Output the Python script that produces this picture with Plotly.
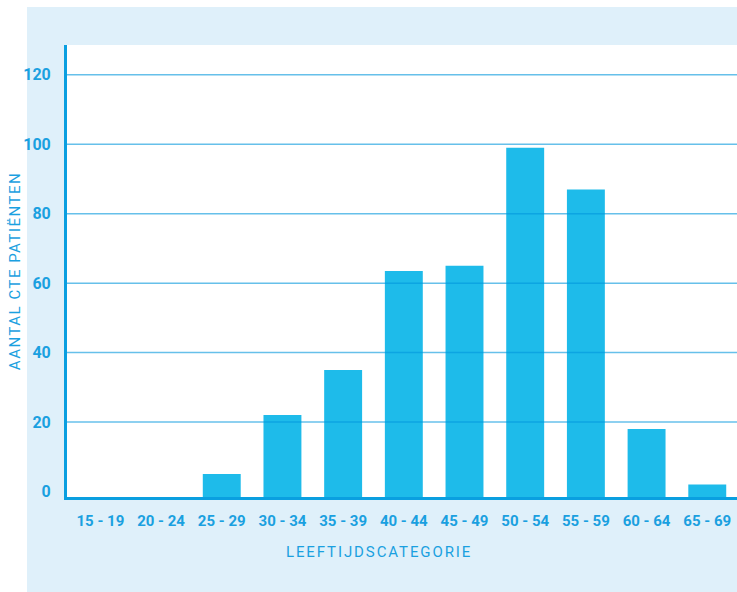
import plotly.graph_objects as go

# Age categories and number of CTE patients per category
categories = ["15 - 19", "20 - 24", "25 - 29", "30 - 34", "35 - 39", "40 - 44",
              "45 - 49", "50 - 54", "55 - 59", "60 - 64", "65 - 69"]
patients = [0, 0, 5, 22, 35, 63.5, 65, 99, 87, 18, 2]
y_ticks = [0, 20, 40, 60, 80, 100, 120]

BAR = "#1ebbea"
AXIS = "#0a9fe0"
TEXT = "#1aa0e0"
PANEL = "#dff0fa"

# the value axis starts a little below zero; bars stand on the axis line
y_min, y_max = -1.6, 128.6
bar_len = [v - y_min if v > 0 else 0 for v in patients]

fig = go.Figure(
    go.Bar(
        x=categories,
        y=bar_len,
        base=y_min,
        marker=dict(color=BAR, line=dict(width=0)),
        width=0.625,
        hoverinfo="skip",
    )
)

# gridlines drawn over the bars, semi-transparent
shapes = [
    dict(type="line", xref="x domain", yref="y", x0=0, x1=1, y0=t, y1=t,
         line=dict(color="rgba(0,150,220,0.6)", width=1.5), layer="above")
    for t in y_ticks if t > 0
]
# white strips around the light-blue panel
shapes += [
    dict(type="rect", xref="paper", yref="paper", x0=-0.2, x1=-0.0597, y0=-0.5, y1=1.5,
         fillcolor="white", line=dict(width=0), layer="below"),
    dict(type="rect", xref="paper", yref="paper", x0=-0.2, x1=1.2, y0=1.084, y1=1.5,
         fillcolor="white", line=dict(width=0), layer="below"),
]

fig.update_layout(
    width=737, height=592,
    margin=dict(l=67, r=0, t=45, b=95, autoexpand=False),
    paper_bgcolor=PANEL,
    plot_bgcolor="white",
    showlegend=False,
    bargap=0.375,
    shapes=shapes,
    font=dict(family="Roboto", color=TEXT),
    annotations=[
        dict(text="LEEFTIJDSCATEGORIE", xref="paper", yref="paper",
             x=0.4657, y=-0.122, xanchor="center", yanchor="middle",
             showarrow=False, font=dict(family="Roboto", size=15, color=TEXT)),
    ],
)

fig.update_xaxes(
    range=[-0.55, 10.49],
    showgrid=False,
    showline=True, linecolor=AXIS, linewidth=3,
    ticks="", ticklabelstandoff=8,
    tickfont=dict(family="Roboto", size=15, color=TEXT, weight=700),
    automargin=False,
    fixedrange=True,
)

fig.update_yaxes(
    range=[y_min, y_max],
    tickvals=y_ticks,
    showgrid=False, zeroline=False,
    showline=True, linecolor=AXIS, linewidth=3,
    ticks="", ticklabelstandoff=10,
    tickfont=dict(family="Roboto", size=16, color=TEXT, weight=700),
    title=dict(text="AANTAL CTE PATIËNTEN", standoff=0,
               font=dict(family="Roboto", size=15, color=TEXT)),
    automargin=False,
    fixedrange=True,
)

# spaced-out lettering for the axis titles
letter_spacing = """
document.querySelectorAll('.annotation-text').forEach(function(e){ e.style.letterSpacing = '1.9px'; });
document.querySelectorAll('.ytitle').forEach(function(e){ e.style.letterSpacing = '1.5px'; });
"""

fig.write_html("out.html", post_script=letter_spacing)
